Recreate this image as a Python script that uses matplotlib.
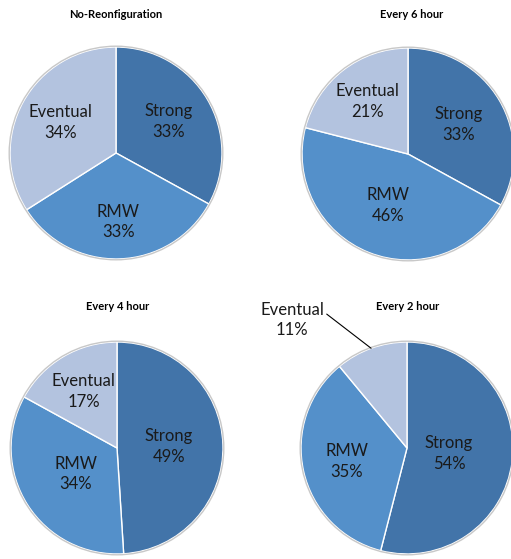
import numpy as np
import matplotlib.pyplot as plt
from matplotlib.patches import Circle

plt.rcParams['font.family'] = ['Lato', 'DejaVu Sans']

categories = ['Strong', 'RMW', 'Eventual']
titles = ['No-Reonfiguration', 'Every 6 hour', 'Every 4 hour', 'Every 2 hour']
shares = [
    [33, 33, 34],
    [33, 46, 21],
    [49, 34, 17],
    [54, 35, 11],
]
colors = ['#4274a9', '#5490ca', '#b3c3df']

# layout in pixels (figure is 511 x 559)
W, H = 511, 559
centers = [(116, 153), (408, 154), (117, 448), (407, 448)]
radius = 106
title_pos = [(116, 14), (412, 14), (118, 306), (408, 306)]
# label distance (fraction of radius) per wedge
label_dist = [
    [0.58, 0.65, 0.60],
    [0.55, 0.52, 0.63],
    [0.49, 0.46, 0.62],
    [0.40, 0.58, None],
]

fig = plt.figure(figsize=(W / 100, H / 100), dpi=100)
ax = fig.add_axes([0, 0, 1, 1])

for i, vals in enumerate(shares):
    cx, cy = centers[i]
    c = (cx, H - cy)
    wedges, _ = ax.pie(vals, colors=colors, startangle=90, counterclock=False,
                       center=c, radius=radius, frame=True,
                       wedgeprops=dict(edgecolor='white', linewidth=1.0))
    ax.add_patch(Circle(c, radius + 0.8, fill=False, edgecolor='#c8c8c8', linewidth=1.0))
    for j, w in enumerate(wedges):
        mid = np.deg2rad((w.theta1 + w.theta2) / 2)
        lbl = '%s\n%d%%' % (categories[j], vals[j])
        d = label_dist[i][j]
        if d is None:
            tx, ty = 292, H - 320
            ax.annotate(lbl, xy=(c[0] + radius * np.cos(mid), c[1] + radius * np.sin(mid)),
                        xytext=(tx, ty), ha='center', va='center', fontsize=12,
                        color='#1a1a1a', linespacing=1.35,
                        arrowprops=dict(arrowstyle='-', color='black', lw=0.8,
                                        relpos=(1.0, 0.72), shrinkA=0, shrinkB=0))
        else:
            ax.text(c[0] + d * radius * np.cos(mid), c[1] + d * radius * np.sin(mid), lbl,
                    ha='center', va='center', fontsize=12, color='#1a1a1a', linespacing=1.35)
    tx, ty = title_pos[i]
    ax.text(tx, H - ty, titles[i], ha='center', va='center', fontsize=8,
            fontweight='bold', color='black')

ax.set_xlim(0, W)
ax.set_ylim(0, H)
ax.set_aspect('equal')
ax.axis('off')

fig.savefig('out.png', dpi=100)
